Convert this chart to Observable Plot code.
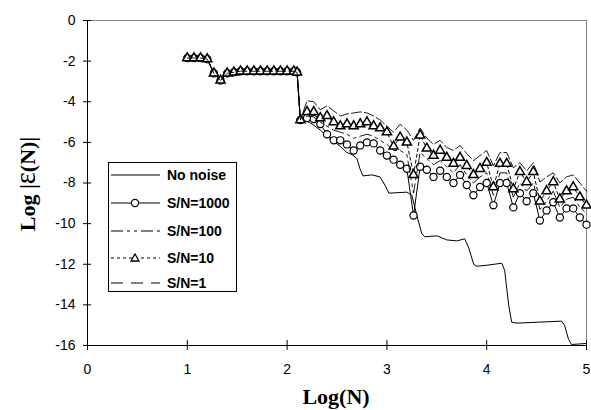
<!DOCTYPE html>
<html><head><meta charset="utf-8">
<script src="https://cdn.jsdelivr.net/npm/d3@7"></script>
<script src="https://cdn.jsdelivr.net/npm/@observablehq/plot@0.6"></script>
<style>
body{margin:0;background:#fff;}
#wrap{position:relative;width:591px;height:410px;font-family:"Liberation Sans",Arial,sans-serif;}
#xtitle{position:absolute;left:236px;width:200px;top:384px;text-align:center;font:bold 22px "Liberation Serif","Times New Roman",serif;}
#ytitle{position:absolute;left:-73px;top:170px;width:200px;text-align:center;transform:rotate(-90deg);font:bold 22px "Liberation Serif","Times New Roman",serif;line-height:26px;}
#legend{position:absolute;left:108px;top:162px;width:129px;height:130px;border:1px solid #000;background:#fff;box-sizing:border-box;}
</style></head><body>
<div id="wrap">
<div id="plot"></div>
<div id="legend"></div>
<div id="xtitle">Log(N)</div>
<div id="ytitle">Log |<span style="font-size:1.3em;font-weight:normal">ε</span>(N)|</div>
</div>
<script>
// ---- data ----
const xNoisy = [1.0,1.067,1.133,1.2,1.267,1.333,1.4,1.467,1.533,1.6,1.667,1.733,1.8,1.867,1.933,2.0,2.067,2.1,
  2.133,2.2,2.267,2.333,2.4,2.467,2.533,2.6,2.667,2.733,2.8,2.867,2.933,3.0,3.067,3.133,3.2,3.267,3.333,
  3.4,3.467,3.533,3.6,3.667,3.733,3.8,3.867,3.933,4.0,4.067,4.133,4.2,4.267,4.333,4.4,4.467,4.533,4.6,4.667,4.733,4.8,4.867,4.933,5.0];

const ySN1000 = [-1.85,-1.85,-1.85,-1.9,-2.6,-2.95,-2.6,-2.55,-2.5,-2.5,-2.5,-2.5,-2.5,-2.5,-2.5,-2.5,-2.5,-2.55,
  -4.9,-4.8,-4.85,-5.1,-5.6,-5.9,-5.9,-6.1,-6.4,-6.15,-6.0,-6.05,-6.4,-6.65,-6.85,-7.1,-7.3,-9.6,-7.2,
  -7.35,-7.7,-7.4,-7.7,-8.0,-7.6,-8.1,-8.6,-8.2,-8.0,-9.1,-8.0,-8.0,-9.2,-8.5,-8.9,-8.5,-9.85,-9.35,-8.95,-9.7,-9.25,-9.25,-9.7,-10.05];

const ySN100 = [-1.85,-1.85,-1.85,-1.9,-2.6,-2.95,-2.6,-2.55,-2.5,-2.5,-2.5,-2.5,-2.5,-2.5,-2.5,-2.5,-2.5,-2.55,
  -4.9,-4.7,-4.75,-5.0,-5.2,-5.4,-5.5,-5.6,-5.8,-5.7,-5.6,-5.7,-5.9,-6.1,-6.4,-6.4,-6.6,-8.5,-6.5,
  -6.8,-7.1,-6.9,-7.2,-7.5,-7.1,-7.6,-8.0,-7.7,-7.5,-8.6,-7.5,-7.5,-8.7,-8.0,-8.4,-8.0,-9.3,-8.9,-8.4,-9.2,-8.8,-8.7,-9.2,-9.5];

const ySN10 = [-1.85,-1.85,-1.85,-1.9,-2.6,-2.95,-2.6,-2.55,-2.5,-2.5,-2.5,-2.5,-2.5,-2.5,-2.5,-2.5,-2.5,-2.55,
  -4.9,-4.5,-4.5,-4.8,-4.7,-5.0,-5.2,-5.1,-5.2,-5.1,-5.0,-5.2,-5.3,-5.5,-6.2,-5.75,-6.0,-7.6,-5.65,
  -6.3,-6.65,-6.4,-6.75,-7.05,-6.75,-7.15,-7.6,-7.3,-7.0,-8.2,-7.05,-7.05,-8.3,-7.45,-7.95,-7.45,-8.9,-8.4,-7.95,-8.8,-8.4,-8.2,-8.7,-9.1];

const ySN1 = [-1.85,-1.85,-1.85,-1.9,-2.6,-2.95,-2.6,-2.55,-2.5,-2.5,-2.5,-2.5,-2.5,-2.5,-2.5,-2.5,-2.5,-2.55,
  -4.9,-3.95,-4.0,-4.4,-4.2,-4.45,-4.7,-4.6,-4.55,-4.5,-4.55,-4.7,-4.9,-5.2,-5.5,-5.1,-5.4,-5.9,-5.3,
  -5.8,-6.1,-5.9,-6.25,-6.4,-6.15,-6.55,-6.9,-6.65,-6.4,-7.15,-6.5,-6.5,-7.25,-7.0,-7.4,-7.0,-7.95,-7.7,-7.5,-8.0,-7.7,-7.6,-8.0,-8.4];

const xNoNoise = [1.0,1.067,1.133,1.2,1.267,1.333,1.4,1.467,1.533,1.6,1.667,1.733,1.8,1.867,1.933,2.0,2.067,2.1,
  2.133,2.2,2.267,2.333,2.4,2.467,2.533,2.6,2.65,2.7,2.73,2.76,2.85,2.93,2.98,3.02,3.2,3.25,3.3,3.35,3.38,3.5,3.6,3.7,3.78,3.82,3.87,3.9,
  4.0,4.15,4.18,4.22,4.25,4.3,4.75,4.78,4.82,4.85,5.0];
const yNoNoise = [-1.85,-1.85,-1.85,-1.9,-2.6,-2.95,-2.6,-2.55,-2.5,-2.5,-2.5,-2.5,-2.5,-2.5,-2.5,-2.5,-2.5,-2.55,
  -4.9,-4.95,-5.15,-5.4,-5.7,-5.95,-6.2,-6.5,-6.6,-6.8,-7.3,-7.65,-7.6,-7.7,-8.1,-8.5,-8.45,-8.6,-9.6,-10.5,-10.65,-10.6,-10.8,-10.85,-10.75,-11.2,-12.0,-12.1,
  -12.05,-11.95,-12.3,-14.0,-14.85,-14.9,-14.8,-15.0,-15.7,-15.95,-15.9];

const xTicks = [0,1,2,3,4,5];
const yTicks = [0,-2,-4,-6,-8,-10,-12,-14,-16];
const seriesNames = ["No noise","S/N=1000","S/N=100","S/N=10","S/N=1"];

// ---- tables ----
const noNoise = xNoNoise.map((x,i)=>({x, y:yNoNoise[i]}));
const mk = ys => xNoisy.map((x,i)=>({x, y:ys[i]}));
const s1000 = mk(ySN1000), s100 = mk(ySN100), s10 = mk(ySN10), s1 = mk(ySN1);

const chart = Plot.plot({
  width:591, height:410,
  marginLeft:87, marginRight:5, marginTop:20, marginBottom:65,
  x:{domain:[0,5]},
  y:{domain:[-16,0]},
  style:{fontFamily:"'Liberation Sans', Arial, sans-serif", fontSize:"14px", background:"white", color:"black"},
  marks:[
    Plot.ruleY([0], {stroke:"#808080", strokeWidth:1}),
    Plot.ruleX([5], {stroke:"#808080", strokeWidth:1}),
    Plot.line(noNoise, {x:"x", y:"y", stroke:"black", strokeWidth:1}),
    Plot.line(s1000, {x:"x", y:"y", stroke:"black", strokeWidth:1}),
    Plot.dot(s1000, {x:"x", y:"y", symbol:"circle", r:3.6, fill:"white", stroke:"black", strokeWidth:1.2}),
    Plot.line(s100, {x:"x", y:"y", stroke:"black", strokeWidth:0.9, strokeDasharray:"12,4,3,4,3,4"}),
    Plot.line(s10, {x:"x", y:"y", stroke:"black", strokeWidth:1, strokeDasharray:"3,3"}),
    Plot.dot(s10, {x:"x", y:"y", symbol:"triangle", r:3.4, fill:"white", stroke:"black", strokeWidth:1.5}),
    Plot.line(s1, {x:"x", y:"y", stroke:"black", strokeWidth:0.9, strokeDasharray:"10,3"}),
    Plot.ruleX([0], {stroke:"black", strokeWidth:1}),
    Plot.ruleY([-16], {stroke:"black", strokeWidth:1}),
    Plot.axisX({ticks:xTicks, tickSize:10, dy:-5, tickPadding:14, fontSize:14, label:null, tickFormat:d=>String(d)}),
    Plot.axisY({ticks:yTicks, tickSize:8, dx:4, tickPadding:8, fontSize:14, label:null, tickFormat:d=>String(d)})
  ]
});
document.getElementById("plot").appendChild(chart);

// ---- legend ----
const ns = "http://www.w3.org/2000/svg";
const lg = document.createElementNS(ns, "svg");
lg.setAttribute("width", 127); lg.setAttribute("height", 128);
const rowsY = [12, 40, 68, 95, 120];
const dashes = [null, null, "12,4,3,4,3,4", "3,3", "12,8"];
seriesNames.forEach((name, i) => {
  const y = rowsY[i];
  const ln = document.createElementNS(ns, "line");
  ln.setAttribute("x1", 2); ln.setAttribute("x2", 51); ln.setAttribute("y1", y); ln.setAttribute("y2", y);
  ln.setAttribute("stroke", "black"); ln.setAttribute("stroke-width", 1);
  if (dashes[i]) ln.setAttribute("stroke-dasharray", dashes[i]);
  lg.appendChild(ln);
  if (i === 1) {
    const c = document.createElementNS(ns, "circle");
    c.setAttribute("cx", 26); c.setAttribute("cy", y); c.setAttribute("r", 3.6);
    c.setAttribute("fill", "white"); c.setAttribute("stroke", "black"); c.setAttribute("stroke-width", 1.2);
    lg.appendChild(c);
  }
  if (i === 3) {
    const p = document.createElementNS(ns, "path");
    p.setAttribute("d", `M26,${y-4}L30,${y+3}L22,${y+3}Z`);
    p.setAttribute("fill", "white"); p.setAttribute("stroke", "black"); p.setAttribute("stroke-width", 1.3);
    lg.appendChild(p);
  }
  const t = document.createElementNS(ns, "text");
  t.setAttribute("x", 58); t.setAttribute("y", y + 5);
  t.setAttribute("font-family", "'Liberation Sans', Arial, sans-serif");
  t.setAttribute("font-size", 14); t.setAttribute("font-weight", "bold");
  t.textContent = name;
  lg.appendChild(t);
});
document.getElementById("legend").appendChild(lg);
</script>
</body></html>
